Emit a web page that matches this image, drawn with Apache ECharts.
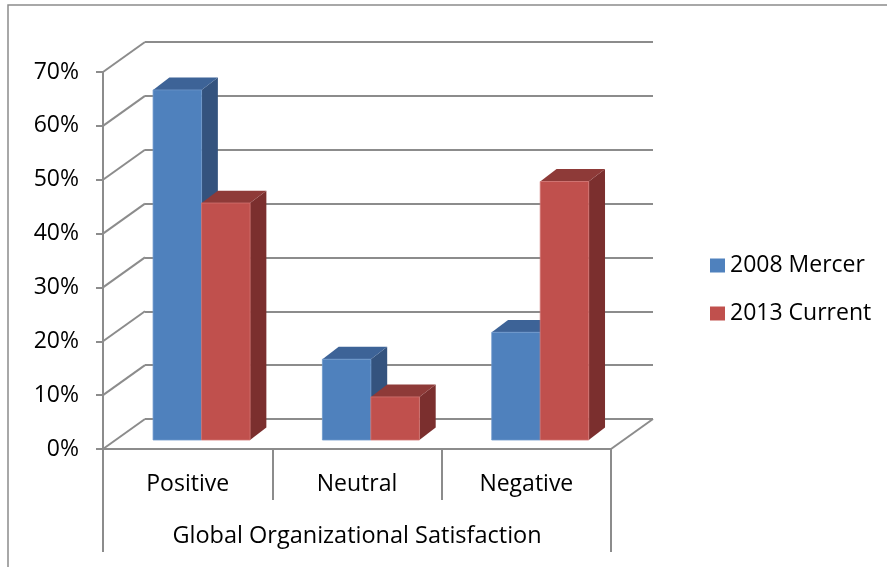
<!DOCTYPE html>
<html><head><meta charset="utf-8">
<script src="https://cdn.jsdelivr.net/npm/echarts@6/dist/echarts.min.js"></script>
<style>html,body{margin:0;padding:0;background:#fff}#c{width:887px;height:567px}</style>
</head><body><div id="c"></div>
<script>
// ---- data ----
const categories = ['Positive', 'Neutral', 'Negative'];
const groupLabel = ['Global Organizational Satisfaction'];
const seriesNames = ['2008 Mercer', '2013 Current'];
const mercer2008 = [0.65, 0.15, 0.20];
const current2013 = [0.44, 0.08, 0.48];
const yTicks = [0, 0.1, 0.2, 0.3, 0.4, 0.5, 0.6, 0.7];

// ---- style ----
const FONT = 'Open Sans';
const GRID_C = '#8c8c8c';
const DEPTH_X = 42, DEPTH_Y = -30;        // back wall offset
const SHIFT_X = 13.9, SHIFT_Y = -9;       // bar front face offset into depth
const BAR_DX = 16.3, BAR_DY = -12.4;      // bar depth
const BAR_FRAC = 0.2864;                  // bar width / band width
const faces = [
  {front: '#4F81BD', side: '#34537E', top: '#3D6397', edge: '#6d98cc'},
  {front: '#C0504D', side: '#7B2F2E', top: '#8E3A38', edge: '#d27471'}
];

function barRender(sIdx) {
  return function (params, api) {
    const ci = api.value(0), v = api.value(1);
    const base = api.coord([ci, 0]);
    const top = api.coord([ci, v]);
    const band = api.size([1, 0])[0];
    const bw = band * BAR_FRAC;
    const x0 = base[0] + SHIFT_X - (sIdx === 0 ? bw : 0);
    const x1 = x0 + bw;
    const yb = base[1] + SHIFT_Y, yt = top[1] + SHIFT_Y;
    const c = faces[sIdx];
    return {
      type: 'group',
      children: [
        {type: 'polygon', shape: {points: [[x1, yt], [x1 + BAR_DX, yt + BAR_DY], [x1 + BAR_DX, yb + BAR_DY], [x1, yb]]}, style: {fill: c.side}},
        {type: 'polygon', shape: {points: [[x0, yt], [x1, yt], [x1 + BAR_DX, yt + BAR_DY], [x0 + BAR_DX, yt + BAR_DY]]}, style: {fill: c.top}},
        {type: 'polygon', shape: {points: [[x0, yt], [x1, yt], [x1, yb], [x0, yb]]}, style: {fill: c.front, stroke: c.edge, lineWidth: 0.8}}
      ]
    };
  };
}

function wallRender(params, api) {
  const v = api.value(1);
  const cs = params.coordSys;
  const y = api.coord([0, v])[1];
  const st = {stroke: GRID_C, lineWidth: 2};
  const children = [{type: 'line', shape: {x1: cs.x, y1: y, x2: cs.x + DEPTH_X, y2: y + DEPTH_Y}, style: st}];
  if (v === 0) {
    children.push({type: 'line', shape: {x1: cs.x + cs.width, y1: y, x2: cs.x + cs.width + DEPTH_X, y2: y + DEPTH_Y}, style: st});
  }
  return {type: 'group', children};
}

const chart = echarts.init(document.getElementById('c'), null, {renderer: 'canvas'});
const txt = {fontFamily: FONT, color: '#000'};
chart.setOption({
  animation: false,
  backgroundColor: '#fff',
  textStyle: {fontFamily: FONT},
  graphic: [{
    type: 'rect', shape: {x: 8, y: 5, width: 2000, height: 2000},
    style: {fill: 'none', stroke: '#8c8c8c', lineWidth: 1.5}, z: -10, silent: true
  }],
  legend: {
    orient: 'vertical', left: 705, top: 249, itemWidth: 15, itemHeight: 14, itemGap: 25,
    icon: 'rect', data: seriesNames,
    textStyle: Object.assign({fontSize: 23}, txt)
  },
  grid: [
    {left: 103, top: 72, width: 508, height: 377},
    {left: 145, top: 42, width: 508, height: 377}
  ],
  xAxis: [
    {
      gridIndex: 0, type: 'category', data: categories, position: 'bottom',
      axisLine: {show: true, lineStyle: {color: GRID_C, width: 2}},
      axisTick: {show: true, length: 51, interval: 0, lineStyle: {color: GRID_C, width: 2}},
      axisLabel: Object.assign({fontSize: 23, margin: 24}, txt),
      splitLine: {show: false}
    },
    {
      gridIndex: 0, type: 'category', data: groupLabel, position: 'bottom', offset: 0,
      axisLine: {show: false},
      axisTick: {show: true, length: 103, lineStyle: {color: GRID_C, width: 2}},
      axisLabel: Object.assign({fontSize: 23.5, margin: 75}, txt),
      splitLine: {show: false}
    },
    {
      gridIndex: 1, type: 'category', data: categories, show: false
    }
  ],
  yAxis: [
    {
      gridIndex: 0, type: 'value', min: 0, max: 0.7, interval: 0.1,
      axisLine: {show: true, lineStyle: {color: GRID_C, width: 2}},
      axisTick: {show: true, length: 7, lineStyle: {color: GRID_C, width: 2}},
      axisLabel: Object.assign({fontSize: 23, margin: 24, padding: [5, 0, 0, 0], formatter: v => Math.round(v * 100) + '%'}, txt),
      splitLine: {show: false}
    },
    {
      gridIndex: 1, type: 'value', min: 0, max: 0.7, interval: 0.1,
      axisLine: {show: false}, axisTick: {show: false}, axisLabel: {show: false},
      splitLine: {show: true, lineStyle: {color: GRID_C, width: 2}}
    }
  ],
  series: [
    {
      type: 'custom', name: 'walls', xAxisIndex: 0, yAxisIndex: 0, z: 1, silent: true,
      renderItem: wallRender, data: yTicks.map(v => [0, v])
    },
    {
      type: 'custom', name: seriesNames[0], xAxisIndex: 0, yAxisIndex: 0, z: 3,
      itemStyle: {color: faces[0].front}, renderItem: barRender(0),
      data: mercer2008.map((v, i) => [i, v])
    },
    {
      type: 'custom', name: seriesNames[1], xAxisIndex: 0, yAxisIndex: 0, z: 4,
      itemStyle: {color: faces[1].front}, renderItem: barRender(1),
      data: current2013.map((v, i) => [i, v])
    }
  ]
});
</script></body></html>
